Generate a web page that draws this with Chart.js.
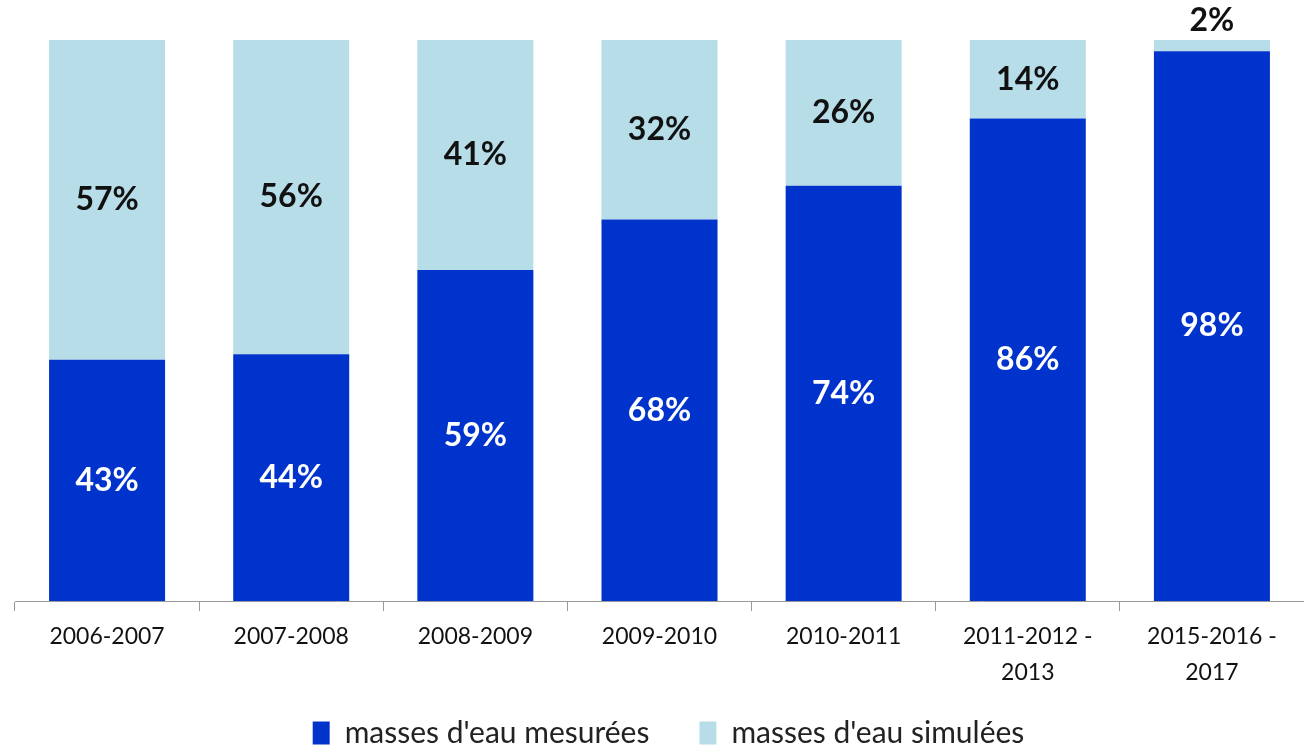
<!DOCTYPE html>
<html>
<head>
<meta charset="utf-8">
<script src="https://cdn.jsdelivr.net/npm/chart.js@4.4.1/dist/chart.umd.min.js"></script>
<style>
  body { margin: 0; background: #fff; }
  canvas { display: block; }
</style>
</head>
<body>
<canvas id="waterChart" width="1304" height="750"></canvas>
<script>
const periods = ['2006-2007', '2007-2008', '2008-2009', '2009-2010', '2010-2011',
  ['2011-2012 -', '2013'], ['2015-2016 -', '2017']];
const measured = [43, 44, 59, 68, 74, 86, 98];
const simulated = [57, 56, 41, 32, 26, 14, 2];
const seriesNames = ["masses d'eau mesurées", "masses d'eau simulées"];

const FONT = 'Lato, "Open Sans", sans-serif';
const LEGEND_SIZE = 30;
const LEGEND_PAD = 50;
const LEGEND_Y = 733; // centre line of the legend row

// percentage labels inside each segment (above the bar when the segment is too thin)
const barLabels = {
  id: 'barLabels',
  afterDatasetsDraw(chart) {
    const ctx = chart.ctx;
    ctx.save();
    ctx.font = 'bold 32px ' + FONT;
    ctx.textAlign = 'center';
    ctx.textBaseline = 'middle';
    chart.data.datasets.forEach((ds, di) => {
      const meta = chart.getDatasetMeta(di);
      meta.data.forEach((bar, i) => {
        const v = ds.data[i];
        const top = Math.min(bar.y, bar.base);
        const bottom = Math.max(bar.y, bar.base);
        let y = (top + bottom) / 2;
        let color = di === 0 ? '#ffffff' : '#111111';
        if (bottom - top < 30) {
          y = top - 19;
          color = '#111111';
        }
        ctx.fillStyle = color;
        ctx.fillText(v + '%', bar.x, y);
      });
    });
    ctx.restore();
  }
};

// the legend needs a wide gap between items but sits close under the axis labels
const moveLegend = {
  id: 'moveLegend',
  afterLayout(chart) {
    const lg = chart.legend;
    lg.top = LEGEND_Y - LEGEND_PAD - LEGEND_SIZE / 2;
    lg.bottom = chart.height;
    lg.height = lg.bottom - lg.top;
    lg.left += 9;
    lg.right += 9;
  }
};

const ctx = document.getElementById('waterChart').getContext('2d');
const waterChart = new Chart(ctx, {
  type: 'bar',
  data: {
    labels: periods,
    datasets: [
      { label: seriesNames[0], data: measured, backgroundColor: '#0033cc' },
      { label: seriesNames[1], data: simulated, backgroundColor: '#b7dde8' }
    ]
  },
  options: {
    responsive: false,
    animation: false,
    layout: { padding: { top: 40, left: 15, right: 0, bottom: 0 } },
    datasets: {
      bar: { barPercentage: 0.63, categoryPercentage: 1 }
    },
    scales: {
      x: {
        stacked: true,
        offset: true,
        grid: {
          offset: true,
          drawOnChartArea: false,
          color: '#9a9a9a',
          tickLength: 10
        },
        border: { color: '#9a9a9a', width: 1 },
        ticks: {
          color: '#111',
          padding: 8,
          maxRotation: 0,
          font: { family: FONT, size: 23, lineHeight: 1.55 }
        },
        afterFit(scale) { scale.height = 90; }
      },
      y: {
        stacked: true,
        display: false,
        min: 0,
        max: 100
      }
    },
    plugins: {
      legend: {
        position: 'bottom',
        maxHeight: 750 - 601 - 90,
        labels: {
          boxWidth: 17,
          boxHeight: 23,
          padding: LEGEND_PAD,
          color: '#222',
          font: { family: FONT, size: LEGEND_SIZE }
        }
      },
      tooltip: { enabled: false }
    }
  },
  plugins: [barLabels, moveLegend]
});
</script>
</body>
</html>
